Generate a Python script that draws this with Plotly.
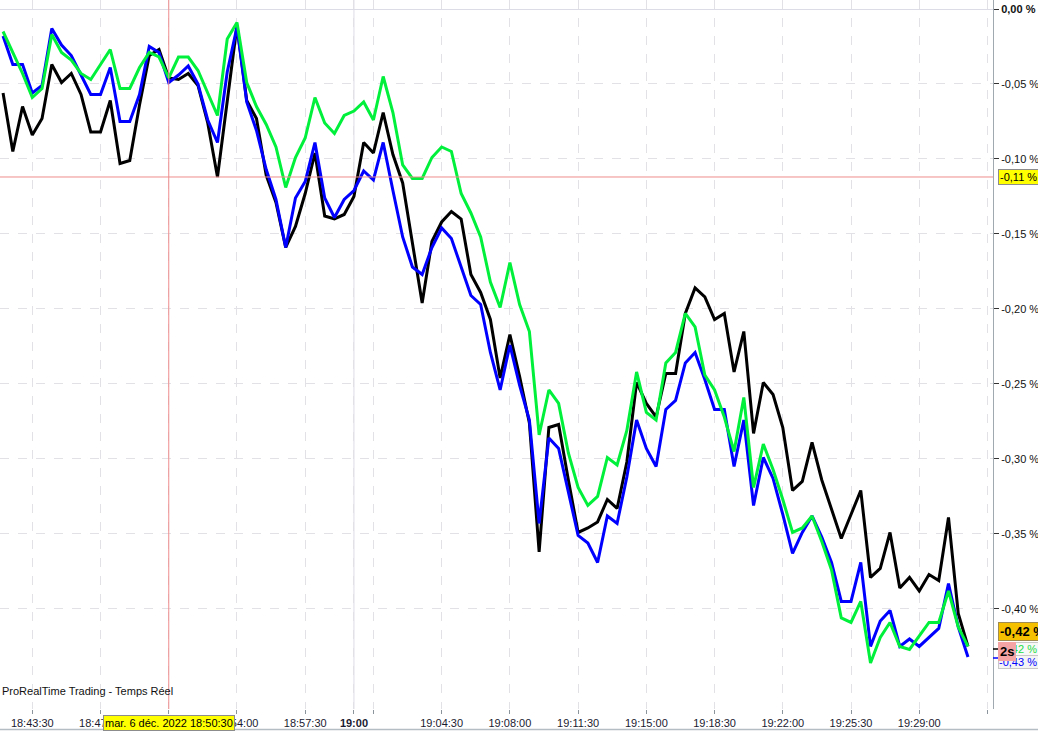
import pandas as pd
import plotly.graph_objects as go

# one quote every 30 s, 18:42:00 -> 19:31:30
times = pd.date_range("2022-12-06 18:42:00", periods=100, freq="30s")

# variation in %
black = [-0.056, -0.095, -0.065, -0.084, -0.073, -0.037, -0.049, -0.043, -0.057, -0.082,
         -0.082, -0.061, -0.103, -0.101, -0.064, -0.031, -0.027, -0.046, -0.047, -0.043,
         -0.051, -0.076, -0.112, -0.061, -0.011, -0.061, -0.073, -0.111, -0.129, -0.159,
         -0.145, -0.123, -0.096, -0.138, -0.140, -0.137, -0.125, -0.089, -0.096, -0.069,
         -0.097, -0.116, -0.157, -0.196, -0.155, -0.142, -0.135, -0.140, -0.177, -0.189,
         -0.207, -0.246, -0.217, -0.245, -0.276, -0.362, -0.279, -0.277, -0.314, -0.349,
         -0.346, -0.342, -0.327, -0.333, -0.302, -0.249, -0.263, -0.272, -0.243, -0.243,
         -0.203, -0.186, -0.192, -0.207, -0.203, -0.242, -0.215, -0.283, -0.249, -0.257,
         -0.279, -0.321, -0.315, -0.289, -0.314, -0.334, -0.353, -0.337, -0.321, -0.379,
         -0.373, -0.349, -0.386, -0.379, -0.388, -0.377, -0.381, -0.339, -0.403, -0.425]

blue = [-0.018, -0.037, -0.037, -0.056, -0.051, -0.013, -0.024, -0.031, -0.044, -0.057,
        -0.057, -0.039, -0.075, -0.075, -0.057, -0.025, -0.029, -0.049, -0.044, -0.038,
        -0.050, -0.074, -0.089, -0.042, -0.012, -0.062, -0.081, -0.107, -0.127, -0.159,
        -0.126, -0.115, -0.089, -0.126, -0.139, -0.127, -0.121, -0.108, -0.114, -0.089,
        -0.121, -0.152, -0.172, -0.177, -0.159, -0.146, -0.153, -0.172, -0.191, -0.197,
        -0.229, -0.254, -0.224, -0.251, -0.274, -0.343, -0.286, -0.293, -0.322, -0.351,
        -0.356, -0.369, -0.338, -0.343, -0.312, -0.274, -0.293, -0.305, -0.267, -0.261,
        -0.236, -0.229, -0.247, -0.267, -0.267, -0.305, -0.274, -0.331, -0.299, -0.313,
        -0.337, -0.363, -0.349, -0.338, -0.352, -0.369, -0.395, -0.395, -0.369, -0.425,
        -0.408, -0.401, -0.425, -0.420, -0.425, -0.419, -0.413, -0.383, -0.412, -0.432]

green = [-0.015, -0.029, -0.043, -0.059, -0.053, -0.017, -0.029, -0.034, -0.043, -0.047,
         -0.037, -0.027, -0.053, -0.053, -0.039, -0.029, -0.032, -0.046, -0.032, -0.032,
         -0.041, -0.056, -0.071, -0.020, -0.009, -0.049, -0.065, -0.077, -0.092, -0.119,
         -0.099, -0.086, -0.059, -0.076, -0.083, -0.071, -0.068, -0.062, -0.074, -0.045,
         -0.069, -0.104, -0.113, -0.113, -0.099, -0.092, -0.095, -0.123, -0.136, -0.152,
         -0.182, -0.199, -0.169, -0.197, -0.215, -0.284, -0.254, -0.263, -0.296, -0.319,
         -0.331, -0.325, -0.299, -0.304, -0.281, -0.242, -0.269, -0.274, -0.236, -0.229,
         -0.203, -0.212, -0.244, -0.254, -0.272, -0.295, -0.259, -0.319, -0.290, -0.307,
         -0.327, -0.349, -0.346, -0.338, -0.355, -0.374, -0.406, -0.409, -0.395, -0.436,
         -0.419, -0.409, -0.425, -0.427, -0.418, -0.409, -0.409, -0.388, -0.412, -0.425]

y_ticks = [0, -0.05, -0.10, -0.15, -0.20, -0.25, -0.30, -0.35, -0.40]
y_labels = ["<b>0,00 %</b>", "-0,05 %", "-0,10 %", "-0,15 %", "-0,20 %",
            "-0,25 %", "-0,30 %", "-0,35 %", "-0,40 %"]

x_ticks = ["18:43:30", "18:47:00", "18:50:30", "18:54:00", "18:57:30", "19:00:00",
           "19:01:00", "19:04:30", "19:08:00", "19:11:30", "19:15:00", "19:18:30",
           "19:22:00", "19:25:30", "19:29:00", "19:32:30"]
x_labels = ["18:43:30", "18:47:00", "18:50:30", "18:54:00", "18:57:30", "<b>19:00</b>",
            "", "19:04:30", "19:08:00", "19:11:30", "19:15:00", "19:18:30",
            "19:22:00", "19:25:30", "19:29:00", ""]

cross_time = "2022-12-06 18:50:30"
cross_value = -0.112
cross_label = "-0,11 %"
date_label = "mar. 6 déc. 2022 18:50:30"
last_labels = {"black": "-0,42 %", "green": "-0,42 %", "blue": "-0,43 %"}

DAY = "2022-12-06 "
PLOT_W, PLOT_H = 993, 709   # plot area size in px (figure 1038x731)


def px(x):
    return x / PLOT_W


def py(y):
    return (PLOT_H - y) / PLOT_H


fig = go.Figure()
for vals, col in [(black, "#000000"), (blue, "#0000ff"), (green, "#00f03c")]:
    fig.add_trace(go.Scatter(x=times, y=vals, mode="lines",
                             line=dict(color=col, width=3), hoverinfo="skip"))

fig.update_layout(
    width=1038, height=731,
    margin=dict(l=0, r=45, t=0, b=22, autoexpand=False),
    plot_bgcolor="white", paper_bgcolor="white",
    showlegend=False,
    font=dict(family="Arial, Liberation Sans, sans-serif", size=11, color="#111111"),
)

fig.update_xaxes(
    type="date", automargin=False,
    range=[DAY + "18:41:50.6", DAY + "19:32:47"],
    tickvals=[DAY + t for t in x_ticks], ticktext=x_labels,
    showgrid=True, gridcolor="#e2e2e6", griddash="dash", gridwidth=1,
    ticks="outside", ticklen=4, tickcolor="#8c949c",
    showline=False, zeroline=False,
    tickfont=dict(size=11, color="#1a1a30"),
)

fig.update_yaxes(
    side="right", automargin=False,
    range=[-0.4667, 0.006],
    tickvals=y_ticks, ticktext=y_labels,
    showgrid=True, gridcolor="#e2e2e6", griddash="dash", gridwidth=1,
    zeroline=True, zerolinecolor="#dcdce6", zerolinewidth=1,
    showline=True, linecolor="#a0a8b0", linewidth=1,
    ticks="outside", ticklen=5, tickcolor="#333333",
    tickfont=dict(size=11, color="#111111"),
)

# 19:00 solid grid line
fig.add_shape(type="line", xref="x", yref="paper", x0=DAY + "19:00:00", x1=DAY + "19:00:00",
              y0=0, y1=1, line=dict(color="#dcdce6", width=1), layer="below")

# crosshair
fig.add_shape(type="line", xref="x", yref="paper", x0=cross_time, x1=cross_time,
              y0=0, y1=1, line=dict(color="#ef8c8c", width=1))
fig.add_shape(type="line", xref="paper", yref="y", x0=0, x1=1,
              y0=cross_value, y1=cross_value, line=dict(color="#ef8c8c", width=1))

# bottom frame line + little scroll marker
fig.add_shape(type="line", xref="paper", yref="paper", x0=0, x1=px(1038),
              y0=py(729.5), y1=py(729.5), line=dict(color="#b4bcc4", width=1.5))
fig.add_shape(type="rect", xref="paper", yref="paper", x0=px(113), x1=px(135),
              y0=py(731), y1=py(729), line=dict(width=0), fillcolor="#3d8fe0")

# last-value marks on the price axis
fig.add_shape(type="line", xref="paper", yref="paper", x0=1, x1=px(998),
              y0=py(649), y1=py(649), line=dict(color="#000000", width=1.5))
fig.add_shape(type="line", xref="paper", yref="paper", x0=1, x1=px(998),
              y0=py(658), y1=py(658), line=dict(color="#0000ff", width=1.5))

fig.add_annotation(text="ProRealTime Trading - Temps Réel", xref="paper", yref="paper",
                   x=0, y=py(691), xanchor="left", yanchor="middle", showarrow=False,
                   font=dict(size=11, color="#111111"))

fig.add_annotation(text=date_label, xref="x", yref="paper", x=cross_time, y=py(723),
                   xanchor="center", yanchor="middle", showarrow=False,
                   bgcolor="#ffff00", bordercolor="#8c8c8c", borderwidth=1, borderpad=1,
                   font=dict(size=11, color="#000000"))

fig.add_annotation(text=cross_label, xref="paper", yref="y", x=px(998), y=cross_value,
                   xanchor="left", yanchor="middle", showarrow=False, width=42, align="left",
                   bgcolor="#ffff00", bordercolor="#8c8c8c", borderwidth=1, borderpad=1,
                   font=dict(size=11, color="#000000"))

fig.add_annotation(text="<b>" + last_labels["black"] + "</b>", xref="paper", yref="paper",
                   x=px(998), y=py(631), xanchor="left", yanchor="middle", showarrow=False,
                   width=48, align="left", bgcolor="#f5c000", bordercolor="#a08c50",
                   borderwidth=1, borderpad=1, font=dict(size=13, color="#000000"))

fig.add_annotation(text=last_labels["green"], xref="paper", yref="paper",
                   x=px(998), y=py(649), xanchor="left", yanchor="middle", showarrow=False,
                   width=42, align="left", bgcolor="#f8f8f8", bordercolor="#c8c8c8",
                   borderwidth=1, borderpad=0, font=dict(size=11, color="#22dd44"))

fig.add_annotation(text=last_labels["blue"], xref="paper", yref="paper",
                   x=px(998), y=py(662), xanchor="left", yanchor="middle", showarrow=False,
                   width=42, align="left", bgcolor="#f4f4f4", bordercolor="#c8c8c8",
                   borderwidth=1, borderpad=0, font=dict(size=11, color="#0000ff"))

fig.add_annotation(text="<b>2s</b>", xref="paper", yref="paper",
                   x=px(998), y=py(651), xanchor="left", yanchor="middle", showarrow=False,
                   bgcolor="#f4a4a4", bordercolor="#f4a4a4", borderwidth=1, borderpad=1,
                   font=dict(size=13, color="#000000"))

# page body has an 8px default margin; drop it so the figure fills the window
fig.write_html("out.html", config={"displayModeBar": False},
               post_script="document.body.style.margin='0px';")
